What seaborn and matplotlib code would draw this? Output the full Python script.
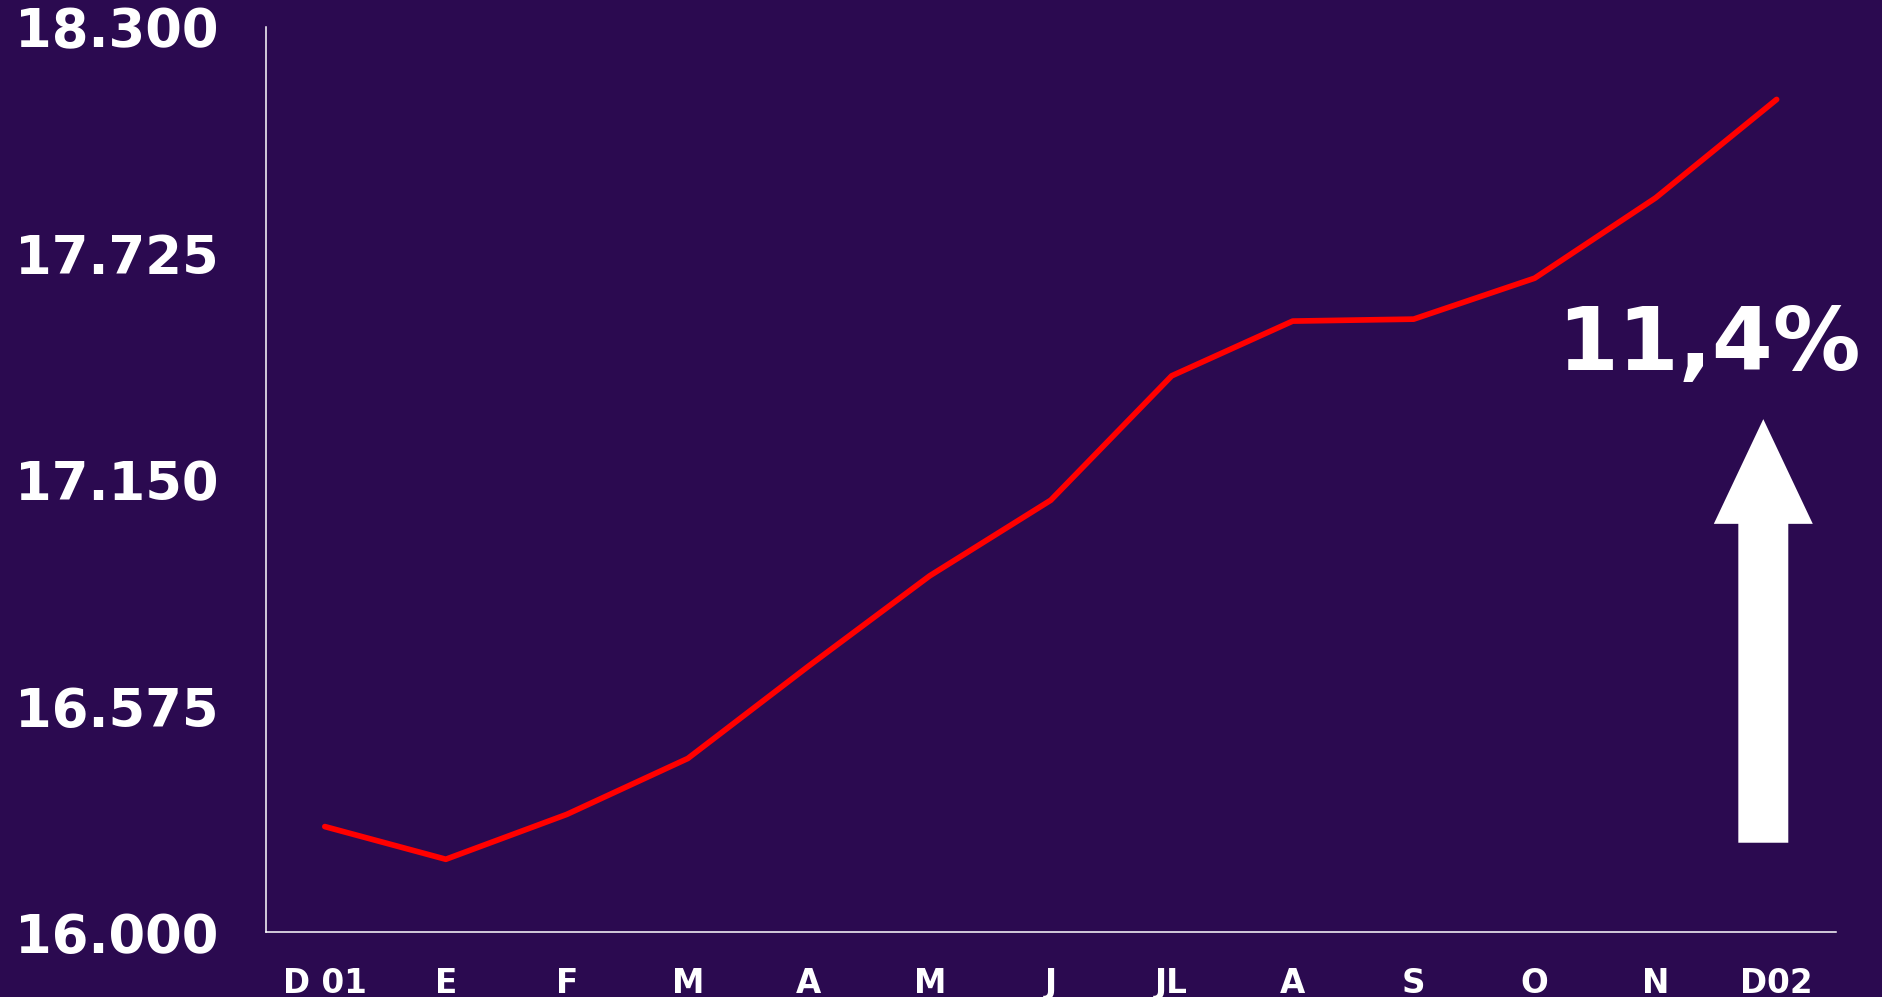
import matplotlib
matplotlib.use("Agg")
import matplotlib.pyplot as plt
from matplotlib.patches import FancyArrow
import seaborn as sns
import pandas as pd

# Monthly series, December 2001 to December 2002
months = ["D 01", "E", "F", "M", "A", "M", "J", "JL", "A", "S", "O", "N", "D02"]
values = [16269, 16186, 16300, 16442, 16677, 16906, 17098,
          17414, 17553, 17558, 17662, 17866, 18116]
y_ticks = [16000, 16575, 17150, 17725, 18300]
growth_label = "11,4%"

BG = "#2B0A50"

sns.set_theme(style="white")
plt.rcParams["font.family"] = ["DejaVu Sans"]

fig = plt.figure(figsize=(18.82, 9.97), dpi=100, facecolor=BG)
ax = fig.add_axes([0.1411, 0.0647, 0.8344, 0.9082])
ax.set_facecolor(BG)

df = pd.DataFrame({"pos": range(len(months)), "value": values})
sns.lineplot(data=df, x="pos", y="value", ax=ax, sort=False,
             color="#FF0000", linewidth=4.1, solid_capstyle="round",
             solid_joinstyle="round")

ax.set_xlim(-0.49, len(months) - 1 + 0.49)
ax.set_ylim(y_ticks[0], y_ticks[-1])

ax.set_xticks(range(len(months)))
ax.set_xticklabels(months)
ax.set_yticks(y_ticks)
ax.set_yticklabels([f"{v:,}".replace(",", ".") for v in y_ticks])

ax.tick_params(axis="y", length=0, pad=34, labelsize=38, labelcolor="white")
ax.tick_params(axis="x", length=0, pad=25, labelsize=23.5, labelcolor="white")
for lbl in ax.get_xticklabels() + ax.get_yticklabels():
    lbl.set_fontweight("heavy")

ax.set_xlabel("")
ax.set_ylabel("")
ax.grid(False)
for side in ("top", "right"):
    ax.spines[side].set_visible(False)
for side in ("left", "bottom"):
    ax.spines[side].set_visible(True)
    ax.spines[side].set_color("white")
    ax.spines[side].set_linewidth(1.1)

# Growth annotation: percentage and a block arrow pointing up
ax.text(11.44, 17429, growth_label, ha="center", va="baseline",
        fontsize=63, fontweight="heavy", color="white", clip_on=False)
arrow = FancyArrow(11.89, 16228, 0, 17304 - 16228, width=0.413,
                   head_width=0.818, head_length=17304 - 17038,
                   length_includes_head=True, color="white", lw=0,
                   clip_on=False)
ax.add_patch(arrow)

fig.savefig("out.png", dpi=100, facecolor=BG)
